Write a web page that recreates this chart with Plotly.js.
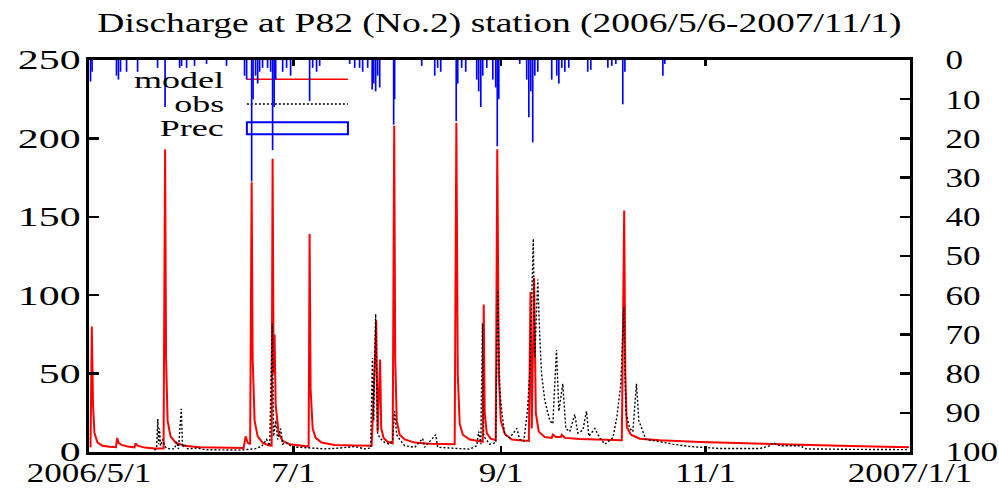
<!DOCTYPE html>
<html>
<head>
<meta charset="utf-8">
<script src="https://cdn.plot.ly/plotly-3.0.1.min.js"></script>
<style>
html,body{margin:0;padding:0;background:#fff;}
#chart{width:999px;height:488px;}
</style>
</head>
<body>
<div id="chart"></div>
<script>
// ---- data ----
const modelTime = [
"2006-05-01 11:00","2006-05-01 20:00","2006-05-02 05:00","2006-05-02 15:00","2006-05-03 13:00","2006-05-05 01:00","2006-05-07 03:00","2006-05-09 01:00","2006-05-09 10:00","2006-05-09 19:00",
"2006-05-10 17:00","2006-05-12 12:00","2006-05-14 14:00","2006-05-14 21:00","2006-05-15 12:00","2006-05-17 14:00","2006-05-20 13:00","2006-05-23 06:00","2006-05-23 17:00","2006-05-24 00:00",
"2006-05-24 11:00","2006-05-25 08:00","2006-05-26 20:00","2006-05-29 12:00","2006-06-03 00:00","2006-06-08 23:00","2006-06-16 03:00","2006-06-16 18:00","2006-06-17 08:00","2006-06-18 02:00",
"2006-06-18 13:00","2006-06-18 20:00","2006-06-19 10:00","2006-06-20 08:00","2006-06-21 19:00","2006-06-23 07:00","2006-06-24 12:00","2006-06-24 19:00","2006-06-25 02:00","2006-06-25 09:00",
"2006-06-25 17:00","2006-06-26 14:00","2006-06-27 19:00","2006-06-29 21:00","2006-07-02 21:00","2006-07-05 13:00","2006-07-05 20:00","2006-07-06 03:00","2006-07-06 18:00","2006-07-07 15:00",
"2006-07-09 10:00","2006-07-13 07:00","2006-07-19 07:00","2006-07-24 08:00","2006-07-24 16:00","2006-07-25 17:00","2006-07-26 03:00","2006-07-26 21:00","2006-07-27 05:00","2006-07-27 22:00",
"2006-07-29 03:00","2006-07-30 15:00","2006-07-31 02:00","2006-07-31 09:00","2006-07-31 20:00","2006-08-01 17:00","2006-08-03 05:00","2006-08-06 05:00","2006-08-10 16:00","2006-08-18 03:00",
"2006-08-18 15:00","2006-08-19 01:00","2006-08-19 15:00","2006-08-20 13:00","2006-08-22 15:00","2006-08-25 14:00","2006-08-26 12:00","2006-08-26 19:00","2006-08-27 02:00","2006-08-27 17:00",
"2006-08-28 21:00","2006-08-30 09:00","2006-08-30 20:00","2006-08-31 07:00","2006-08-31 21:00","2006-09-02 02:00","2006-09-04 04:00","2006-09-06 13:00","2006-09-09 06:00","2006-09-09 18:00",
"2006-09-10 03:00","2006-09-10 20:00","2006-09-11 08:00","2006-09-12 05:00","2006-09-14 00:00","2006-09-16 02:00","2006-09-16 10:00","2006-09-17 07:00","2006-09-18 19:00","2006-09-19 02:00",
"2006-09-20 00:00","2006-09-24 11:00","2006-09-30 10:00","2006-10-07 00:00","2006-10-07 17:00","2006-10-08 01:00","2006-10-08 12:00","2006-10-09 17:00","2006-10-12 09:00","2006-10-18 08:00",
"2006-10-30 07:00","2006-11-14 05:00","2006-11-29 04:00","2006-12-14 02:00","2006-12-31 17:00"
];
const modelQ = [
3,80,30,12,6,4,3.3,3,9,6,
4.5,3.5,3,5.5,4,2.8,2.3,2.2,193,60,
20,10,6,4,3,2.7,2.5,10,6,5,
172,60,20,10,6,4.5,4,187,50,75,
30,12,7,5,4,3.5,139,40,15,9,
6,4.5,4.2,4,20,84,13,59,15,9,
6.5,5.5,208,60,20,11,8,6,5.2,5,
210,50,18,11,8,7,6.5,94,25,12,
8.5,7.5,193,50,20,11.5,8,7.5,7,102,
15,111,25,13,9.5,9,11,9.5,9.5,11,
9,8.3,7.8,7.5,154,50,16,11,8.5,7.5,
6.4,5.4,4.6,3.8,3
];

const obsTime = [
"2006-05-20 13:00","2006-05-21 04:00","2006-05-21 13:00","2006-05-21 18:00","2006-05-22 01:00","2006-05-22 08:00","2006-05-22 23:00","2006-05-23 20:00","2006-05-25 01:00","2006-05-26 13:00",
"2006-05-27 03:00","2006-05-27 17:00","2006-05-28 13:00","2006-05-28 22:00","2006-05-29 12:00","2006-05-30 10:00","2006-06-02 10:00","2006-06-04 12:00","2006-06-14 23:00","2006-06-19 10:00",
"2006-06-21 12:00","2006-06-23 00:00","2006-06-23 22:00","2006-06-24 17:00","2006-06-25 02:00","2006-06-25 17:00","2006-06-26 07:00","2006-06-27 04:00","2006-06-27 19:00","2006-06-28 23:00",
"2006-06-30 18:00","2006-07-02 21:00","2006-07-06 18:00","2006-07-10 08:00","2006-07-14 19:00","2006-07-19 07:00","2006-07-22 06:00","2006-07-24 01:00","2006-07-24 14:00","2006-07-24 23:00",
"2006-07-25 13:00","2006-07-26 03:00","2006-07-26 18:00","2006-07-28 06:00","2006-07-29 17:00","2006-07-30 15:00","2006-07-31 05:00","2006-07-31 20:00","2006-08-01 17:00","2006-08-03 05:00",
"2006-08-06 05:00","2006-08-08 14:00","2006-08-09 04:00","2006-08-12 11:00","2006-08-13 01:00","2006-08-16 15:00","2006-08-22 15:00","2006-08-24 17:00","2006-08-25 07:00","2006-08-25 22:00",
"2006-08-26 10:00","2006-08-26 19:00","2006-08-28 14:00","2006-08-30 09:00","2006-08-30 23:00","2006-08-31 14:00","2006-09-01 04:00","2006-09-02 02:00","2006-09-03 13:00","2006-09-05 16:00",
"2006-09-06 13:00","2006-09-07 18:00","2006-09-08 20:00","2006-09-09 13:00","2006-09-10 14:00","2006-09-11 01:00","2006-09-11 22:00","2006-09-12 12:00","2006-09-13 01:00","2006-09-14 00:00",
"2006-09-15 12:00","2006-09-16 10:00","2006-09-17 12:00","2006-09-18 05:00","2006-09-19 09:00","2006-09-20 07:00","2006-09-21 11:00","2006-09-22 23:00","2006-09-23 21:00","2006-09-25 09:00",
"2006-09-26 11:00","2006-09-27 04:00","2006-09-28 23:00","2006-09-30 10:00","2006-10-01 22:00","2006-10-04 08:00","2006-10-05 12:00","2006-10-06 17:00","2006-10-07 14:00","2006-10-08 05:00",
"2006-10-09 09:00","2006-10-10 07:00","2006-10-11 09:00","2006-10-12 02:00","2006-10-14 04:00","2006-10-19 20:00","2006-10-22 06:00","2006-10-27 07:00","2006-11-05 06:00","2006-11-17 05:00",
"2006-11-20 05:00","2006-11-21 02:00","2006-11-23 04:00","2006-11-29 04:00","2006-11-30 23:00","2006-12-14 02:00","2006-12-31 17:00"
];
const obsQ = [
1,3,21,5,15,4,8,3,2,2,
6.5,2,27.5,3,5,2,2.5,1.5,1.2,2,
3.5,8,4,82,10,20,8,15,5,6,
3,3,2.5,2,2.5,3.5,2,2.5,60,20,
88,12,9,6,5,8,26,11,8,4,
3,8.6,3,11,3,2.5,1.8,4,13,5,
82,10,5,6,103,40,26,11,9,15,
8,7,26,50,136,60,110,75,50,33,
20,18,65,26,43.5,15,13,24,12,14,
26,10,15,9,5,9,22,43.5,92.5,25,
15,13,43.5,20,8,6,5,3.5,2.2,2.2,
4,6,4,4,2,1.7,1.5
];

const precTime = [
"2006-05-01 11:00","2006-05-01 22:00","2006-05-09 05:00","2006-05-09 19:00","2006-05-10 10:00","2006-05-12 05:00","2006-05-15 12:00","2006-05-21 11:00","2006-05-23 17:00","2006-05-28 01:00",
"2006-05-28 15:00","2006-05-30 03:00","2006-06-01 12:00","2006-06-05 02:00","2006-06-11 01:00","2006-06-16 10:00","2006-06-17 01:00","2006-06-18 13:00","2006-06-18 23:00","2006-06-19 17:00",
"2006-06-20 08:00","2006-06-20 22:00","2006-06-21 19:00","2006-06-23 07:00","2006-06-24 05:00","2006-06-24 19:00","2006-06-25 06:00","2006-06-25 17:00","2006-06-27 19:00","2006-06-28 23:00",
"2006-06-30 04:00","2006-07-05 20:00","2006-07-06 18:00","2006-07-07 22:00","2006-07-08 20:00","2006-07-17 19:00","2006-07-19 07:00","2006-07-20 18:00","2006-07-21 16:00","2006-07-23 04:00",
"2006-07-24 12:00","2006-07-24 23:00","2006-07-25 13:00","2006-07-26 03:00","2006-07-26 18:00","2006-07-30 22:00","2006-07-31 05:00","2006-08-08 07:00","2006-08-12 04:00","2006-08-13 01:00",
"2006-08-13 23:00","2006-08-18 14:00","2006-08-19 01:00","2006-08-20 05:00","2006-08-21 10:00","2006-08-24 17:00","2006-08-25 07:00","2006-08-25 22:00","2006-08-26 12:00","2006-08-27 17:00",
"2006-08-29 12:00","2006-08-30 09:00","2006-08-30 20:00","2006-08-31 07:00","2006-09-06 13:00","2006-09-08 15:00","2006-09-09 06:00","2006-09-09 20:00","2006-09-10 10:00","2006-09-11 01:00",
"2006-09-11 22:00","2006-09-16 02:00","2006-09-17 14:00","2006-09-18 05:00","2006-09-19 02:00","2006-09-20 00:00","2006-09-21 04:00","2006-09-26 20:00","2006-09-27 18:00","2006-10-02 20:00",
"2006-10-04 00:00","2006-10-05 05:00","2006-10-07 07:00","2006-10-07 22:00","2006-10-19 06:00","2006-10-19 20:00"
];
const precMM = [
5.5,3,4,5,3,3,3,2,12,2,
1.5,2,1.5,1,1.5,4,5,31,10,4,
6,3,2,2,3,23,12,5,3,2,
4,10.5,2,3,1.5,1,2,2,3,2,
7.5,6,8,4,7,16.5,10,1.5,4,2,
3,15.6,6,2,3,5,8,12,4,2,
5,7,22,10,1,5,14.6,8,21,4,
3,5,4,6,2,3,2,3,2.5,2,
1.5,1,11.3,3,4,1
];

const xTickVals = ["2006-05-01","2006-07-01","2006-09-01","2006-11-01","2007-01-01"];
const xTickText = ["2006/5/1","7/1","9/1","11/1","2007/1/1"];
const yTickVals = [0,50,100,150,200,250];
const y2TickVals = [0,10,20,30,40,50,60,70,80,90,100];
const seriesNames = ["model","obs","Prec"];
const titleText = "Discharge at P82 (No.2) station (2006/5/6-2007/11/1)";

// ---- chart ----
const FONT = "Liberation Serif, Times New Roman, serif";
const traces = [
  {type:"scatter", mode:"lines", name:seriesNames[0], x:modelTime, y:modelQ,
   line:{color:"#ff0000", width:2}, showlegend:false, hoverinfo:"skip"},
  {type:"scatter", mode:"lines", name:seriesNames[1], x:obsTime, y:obsQ,
   line:{color:"#000000", width:1.4, dash:"2px,2px"}, showlegend:false, hoverinfo:"skip"},
  {type:"bar", name:seriesNames[2], x:precTime, y:precMM, yaxis:"y2",
   width:43200000, marker:{color:"#0000ff", line:{width:0}}, showlegend:false, hoverinfo:"skip"}
];

const axisCommon = {
  showline:true, linewidth:3, linecolor:"#000", ticks:"inside", tickcolor:"#000",
  showgrid:false, zeroline:false, tickfont:{family:FONT, size:27, color:"#000"}
};

const layout = {
  width:999, height:488,
  margin:{l:89, r:89, t:60, b:36, pad:0},
  paper_bgcolor:"#fff", plot_bgcolor:"#fff",
  showlegend:false,
  title:{text:titleText, font:{family:FONT, size:28, color:"#000"},
         x:0.5, xanchor:"center", y:1-22/488, yanchor:"middle"},
  xaxis:Object.assign({}, axisCommon, {
    type:"date", range:["2006-05-01","2007-01-01"], tickmode:"array",
    tickvals:xTickVals, ticktext:xTickText, ticklen:6, tickwidth:2.5, mirror:"ticks",
    ticklabelstandoff:0
  }),
  yaxis:Object.assign({}, axisCommon, {
    range:[0,250], tickmode:"array", tickvals:yTickVals, ticklen:10, tickwidth:2.5,
    ticklabelstandoff:0
  }),
  yaxis2:Object.assign({}, axisCommon, {
    overlaying:"y", side:"right", range:[100,0], tickmode:"array", tickvals:y2TickVals,
    ticklen:10, tickwidth:2.5, ticklabelstandoff:27
  }),
  annotations:[
    {xref:"paper", yref:"paper", x:0.167, y:0.949, xanchor:"right", yanchor:"middle", align:"right",
     text:seriesNames[0], showarrow:false, font:{family:FONT, size:24, color:"#000"}},
    {xref:"paper", yref:"paper", x:0.167, y:0.888, xanchor:"right", yanchor:"middle", align:"right",
     text:seriesNames[1], showarrow:false, font:{family:FONT, size:24, color:"#000"}},
    {xref:"paper", yref:"paper", x:0.167, y:0.8265, xanchor:"right", yanchor:"middle", align:"right",
     text:seriesNames[2], showarrow:false, font:{family:FONT, size:24, color:"#000"}}
  ],
  shapes:[
    {type:"line", xref:"paper", yref:"paper", x0:0.1923, x1:0.3154, y0:0.9508, y1:0.9508,
     line:{color:"#ff0000", width:1.5}, layer:"below"},
    {type:"line", xref:"paper", yref:"paper", x0:0.1923, x1:0.3154, y0:0.8878, y1:0.8878,
     line:{color:"#000", width:1.4, dash:"2px,2px"}, layer:"below"},
    {type:"rect", xref:"paper", yref:"paper", x0:0.1923, x1:0.3154, y0:0.8105, y1:0.8411,
     line:{color:"#0000ff", width:2}, fillcolor:"rgba(0,0,0,0)", layer:"below"}
  ]
};

function stretchText(root, selector, s, dy) {
  root.querySelectorAll(selector).forEach(function(el){
    const x = parseFloat(el.getAttribute("x")) || 0;
    const t = el.getAttribute("transform") || "";
    el.setAttribute("transform", (t + " translate(" + x + "," + (dy || 0) + ") scale(" + s + ",1) translate(" + (-x) + ",0)").trim());
  });
}

const gd = document.getElementById("chart");
Plotly.newPlot(gd, traces, layout, {staticPlot:true, displayModeBar:false}).then(function(){
  stretchText(gd, ".xtick text", 1.3, -5);
  stretchText(gd, ".ytick text", 1.55, 0);
  stretchText(gd, ".y2tick text", 1.3, 0);
  stretchText(gd, ".gtitle", 1.34, 0);
  stretchText(gd, ".annotation-text", 1.5, 0);
});
</script>
</body>
</html>
